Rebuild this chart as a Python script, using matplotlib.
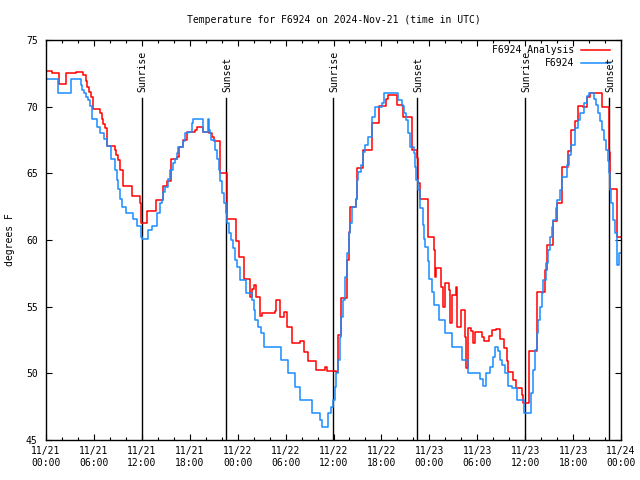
import matplotlib
matplotlib.use("Agg")
import matplotlib.pyplot as plt
from matplotlib.ticker import MultipleLocator, FixedLocator

# hours since 2024-11-21 00:00 UTC
red_hours = [0.00, 0.80, 1.65, 2.45, 3.75, 4.60, 4.95, 5.15, 5.40, 5.60, 5.85, 6.75, 7.05, 7.15, 7.45,
             7.65, 8.65, 8.80, 9.00, 9.25, 9.70, 10.75, 11.80, 11.85, 11.95, 12.70, 13.75, 14.70, 15.10,
             15.65, 16.40, 16.65, 17.20, 17.65, 18.65, 18.85, 19.70, 20.40, 20.75, 21.05, 21.80, 22.65,
             23.75, 24.15, 24.85, 25.60, 25.80, 26.00, 26.30, 26.80, 27.10, 28.65, 28.85, 29.25, 29.80,
             30.20, 30.80, 31.75, 32.25, 32.80, 33.85, 34.90, 35.20, 36.35, 36.55, 36.95, 37.75, 37.90,
             38.05, 38.80, 38.90, 39.75, 40.80, 41.75, 42.60, 42.85, 43.90, 44.75, 45.80, 46.50, 46.55,
             46.85, 47.80, 48.55, 48.65, 48.85, 49.45, 49.70, 49.90, 50.50, 50.60, 50.90, 51.35, 51.50,
             52.00, 52.50, 52.60, 52.90, 53.20, 53.50, 53.70, 54.35, 54.60, 54.90, 55.20, 55.50, 55.85,
             56.40, 56.85, 57.30, 57.70, 57.80, 58.50, 58.80, 59.55, 59.75, 60.50, 61.45, 61.50, 62.50,
             62.70, 63.50, 63.95, 64.55, 64.60, 65.40, 65.75, 66.25, 66.60, 67.30, 67.70, 68.15, 69.60,
             70.55, 70.65, 71.50, 72.00]
red_temps = [72.65, 72.50, 71.70, 72.55, 72.60, 72.40, 71.90, 71.50, 71.10, 70.75, 69.80, 69.50, 69.10, 68.70, 68.40,
             67.05, 66.75, 66.40, 66.00, 65.25, 64.05, 63.30, 62.75, 61.90, 61.30, 62.20, 63.00, 64.05, 64.40,
             66.10, 66.20, 66.95, 67.50, 68.10, 68.25, 68.50, 68.10, 68.00, 67.75, 67.40, 65.00, 61.60,
             59.90, 58.75, 57.10, 55.70, 56.30, 56.60, 55.75, 54.30, 54.55, 54.70, 55.50, 54.20, 54.60,
             53.45, 52.25, 52.40, 51.60, 50.90, 50.25, 50.45, 50.20, 50.10, 52.90, 55.65, 58.50, 60.60,
             62.50, 63.10, 65.40, 66.75, 68.75, 70.05, 70.55, 70.90, 70.10, 69.25, 66.75, 66.15, 64.30,
             63.10, 60.20, 59.25, 57.25, 57.90, 56.50, 55.00, 56.80, 56.25, 53.80, 55.90, 56.50, 53.50,
             54.75, 52.75, 50.40, 53.40, 53.20, 52.30, 53.10, 53.10, 52.70, 52.40, 52.45, 52.80, 53.25,
             53.30, 52.60, 51.90, 50.90, 50.10, 49.50, 48.90, 48.40, 47.80, 51.70, 53.75, 56.10, 57.75,
             59.60, 61.40, 62.75, 64.10, 65.45, 66.70, 68.25, 68.90, 70.05, 70.00, 70.70, 71.05, 70.00,
             66.60, 63.80, 60.25, 60.25]

blue_hours = [0.00, 1.55, 3.10, 4.35, 4.55, 4.75, 5.00, 5.25, 5.45, 5.80, 6.40, 6.80, 7.30, 7.70, 8.20,
              8.65, 8.85, 9.05, 9.25, 9.50, 10.00, 10.95, 11.35, 11.95, 12.00, 12.80, 13.25, 13.85, 14.25,
              14.50, 14.70, 14.90, 15.25, 15.50, 15.95, 16.15, 16.35, 16.55, 17.20, 17.40, 17.80, 18.25,
              18.45, 19.70, 20.30, 20.35, 20.55, 20.70, 21.15, 21.40, 21.65, 21.85, 22.05, 22.30, 22.55,
              22.70, 22.90, 23.15, 23.40, 23.65, 23.90, 24.30, 25.00, 25.75, 26.00, 26.15, 26.55, 26.90,
              27.30, 29.40, 30.35, 31.15, 31.75, 33.30, 34.30, 34.50, 35.35, 35.70, 35.95, 36.15, 36.35,
              36.60, 36.80, 36.95, 37.20, 37.45, 37.70, 37.90, 38.05, 38.30, 38.80, 38.90, 39.10, 39.45,
              39.70, 39.95, 40.35, 40.80, 41.20, 42.05, 42.30, 44.05, 44.55, 44.85, 45.10, 45.35, 45.60,
              46.05, 46.15, 46.35, 46.60, 46.85, 47.15, 47.35, 47.50, 47.80, 48.00, 48.35, 48.55, 49.25,
              49.90, 50.85, 52.05, 52.85, 54.40, 54.75, 55.05, 55.55, 55.95, 56.20, 56.55, 56.85, 57.15,
              57.50, 57.90, 58.35, 58.95, 59.90, 60.70, 60.95, 61.20, 61.45, 61.65, 61.85, 62.05, 62.25,
              62.60, 62.80, 63.05, 63.30, 63.50, 63.80, 64.00, 64.30, 64.60, 65.20, 65.50, 65.70, 66.25,
              66.60, 66.85, 67.35, 67.75, 68.05, 68.60, 68.85, 69.15, 69.35, 69.65, 69.90, 70.10, 70.35,
              70.50, 70.60, 70.80, 71.00, 71.20, 71.45, 71.55, 71.70, 72.00]
blue_temps = [72.05, 71.05, 72.05, 71.60, 71.25, 71.00, 70.75, 70.50, 70.05, 69.05, 68.50, 68.05, 67.55, 67.05, 66.05,
              65.25, 64.50, 63.80, 63.10, 62.50, 62.00, 61.60, 61.05, 60.25, 60.05, 60.75, 61.05, 62.00, 62.75,
              63.00, 63.60, 64.00, 64.60, 65.25, 65.75, 66.10, 66.50, 67.00, 67.40, 68.00, 68.10, 68.75,
              69.05, 68.10, 69.05, 68.25, 68.00, 67.50, 66.75, 66.10, 65.25, 64.40, 63.50, 62.75, 62.00,
              61.25, 60.50, 60.00, 59.40, 58.50, 58.00, 57.00, 56.00, 55.50, 54.75, 54.00, 53.50, 53.00,
              52.00, 51.00, 50.00, 49.00, 48.00, 47.00, 46.50, 46.00, 47.00, 47.50, 48.00, 49.00, 50.00,
              51.00, 52.75, 54.25, 55.50, 57.25, 59.00, 60.50, 61.30, 62.45, 63.10, 64.50, 65.10, 65.60,
              66.60, 67.10, 67.75, 69.25, 70.00, 70.25, 71.05, 70.50, 70.05, 69.50, 69.00, 68.00, 67.00,
              66.50, 65.50, 64.50, 63.75, 62.40, 61.10, 60.10, 59.50, 58.40, 57.10, 56.10, 55.10, 54.00,
              53.00, 52.00, 51.00, 50.05, 49.60, 49.05, 50.00, 50.50, 51.25, 52.00, 51.70, 51.00, 50.60,
              50.05, 49.05, 48.90, 48.00, 47.00, 48.50, 50.25, 51.75, 53.00, 54.00, 55.00, 56.00, 57.00,
              58.25, 59.25, 60.25, 61.00, 61.50, 62.40, 63.00, 63.75, 64.75, 65.60, 66.40, 67.10, 68.40,
              69.00, 69.50, 70.25, 70.80, 71.05, 70.60, 70.10, 69.50, 68.90, 68.25, 67.50, 66.75, 65.90,
              65.00, 63.75, 62.75, 61.50, 60.50, 59.25, 58.10, 59.00, 59.00]

sun_hours = [11.97, 22.60, 35.98, 46.50, 60.00, 70.53]
sun_labels = ["Sunrise", "Sunset", "Sunrise", "Sunset", "Sunrise", "Sunset"]

series_names = ["F6924 Analysis", "F6924"]
title = "Temperature for F6924 on 2024-Nov-21 (time in UTC)"
ylabel = "degrees F"

RED = "#ff0000"
BLUE = "#1a8cff"
FONT = "DejaVu Sans Mono"
FS = 7

plt.rcParams["font.family"] = FONT

fig = plt.figure(figsize=(6.4, 4.8), dpi=100)
ax = fig.add_axes([46 / 640, 40 / 480, 575 / 640, 400 / 480])

for h in sun_hours:
    ax.plot([h, h], [45, 70.65], color="black", lw=1.0, zorder=1)
for h, lab in zip(sun_hours, sun_labels):
    ax.text(h + 0.1, 71.1, lab, rotation=90, ha="center", va="bottom", fontsize=FS, zorder=3)

ax.plot(red_hours, red_temps, drawstyle="steps-post", color=RED, lw=1.1, zorder=2)
ax.plot(blue_hours, blue_temps, drawstyle="steps-post", color=BLUE, lw=1.1, zorder=2)

ax.set_xlim(0, 72)
ax.set_ylim(45, 75)

major = list(range(0, 73, 6))
labels = []
for h in major:
    d = 21 + h // 24
    labels.append(f"11/{d}\n{h % 24:02d}:00")
ax.xaxis.set_major_locator(FixedLocator(major))
ax.set_xticklabels(labels)
ax.xaxis.set_minor_locator(MultipleLocator(2))
ax.yaxis.set_major_locator(MultipleLocator(5))

ax.tick_params(which="both", direction="in", top=True, right=True, labelsize=FS, color="black")
ax.tick_params(which="major", length=4.5, width=0.8)
ax.tick_params(which="minor", length=2.5, width=0.8)
ax.tick_params(axis="x", pad=4)
ax.tick_params(axis="y", pad=6)
for lab in ax.get_xticklabels():
    lab.set_linespacing(1.3)

for s in ax.spines.values():
    s.set_linewidth(1.0)

ax.set_title(title, fontsize=FS, pad=12)
fig.text(10 / 640, 1 - 240 / 480, ylabel, rotation=90, ha="center", va="center", fontsize=FS)

# legend (top right, gnuplot style)
ax.text(0.918, 0.975, series_names[0], transform=ax.transAxes, ha="right", va="center", fontsize=FS)
ax.plot([0.930, 0.981], [0.975, 0.975], transform=ax.transAxes, color=RED, lw=1.1)
ax.text(0.918, 0.9425, series_names[1], transform=ax.transAxes, ha="right", va="center", fontsize=FS)
ax.plot([0.930, 0.981], [0.9425, 0.9425], transform=ax.transAxes, color=BLUE, lw=1.1)

fig.savefig("out.png", dpi=100)
